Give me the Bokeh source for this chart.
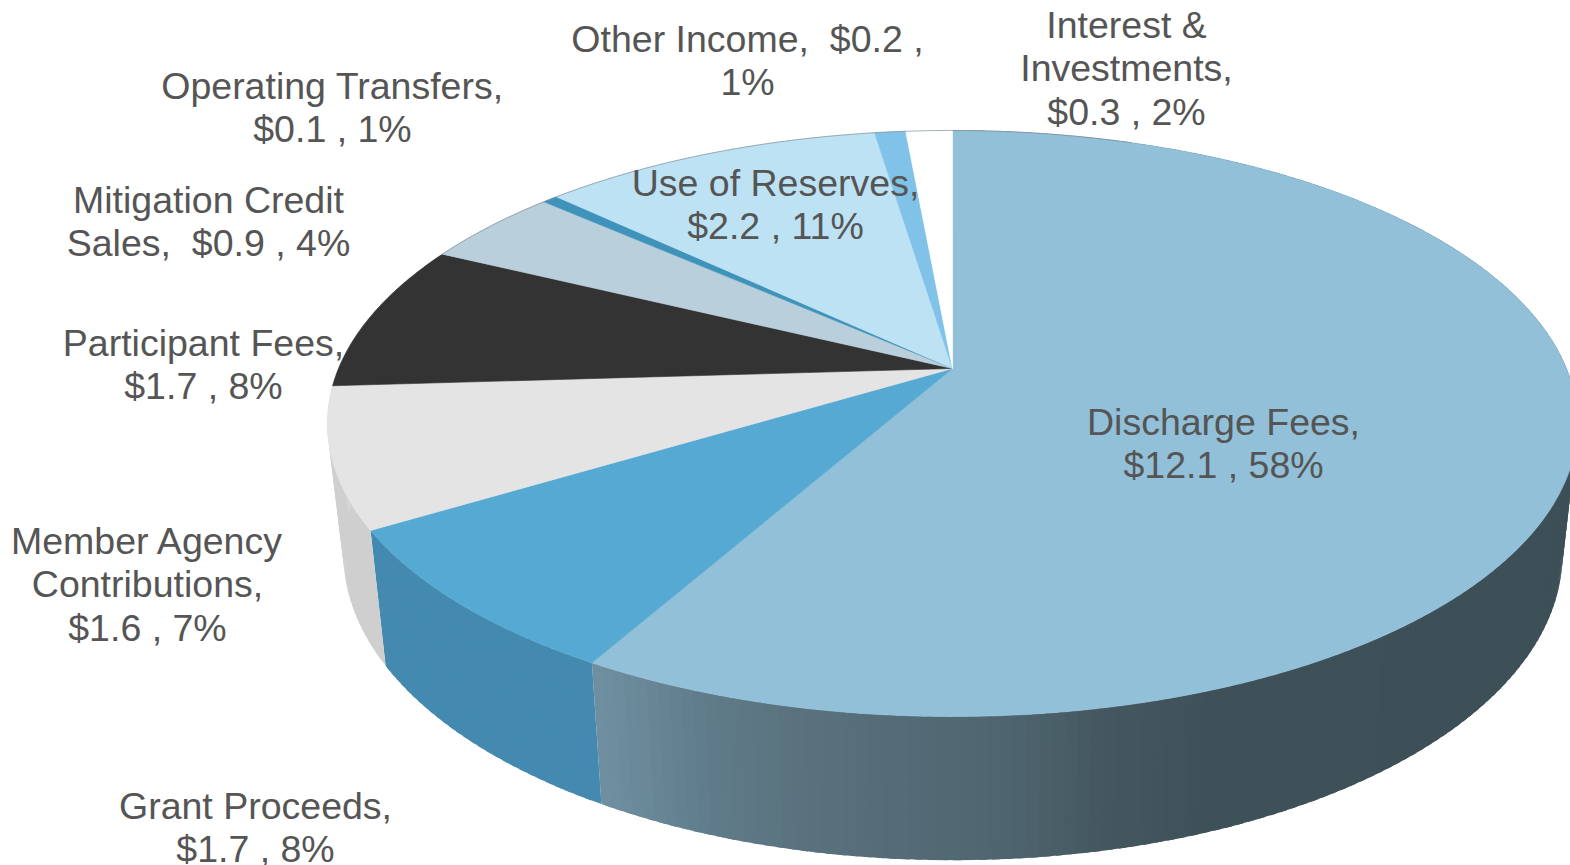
import numpy as np
from bokeh.core.properties import value
from bokeh.embed import file_html
from bokeh.models import Range1d
from bokeh.plotting import figure
from bokeh.resources import INLINE

# Revenue by source, $ millions, clockwise from twelve o'clock
sources = ["Discharge Fees", "Grant Proceeds", "Member Agency Contributions", "Participant Fees",
           "Mitigation Credit Sales", "Operating Transfers", "Use of Reserves", "Other Income",
           "Interest & Investments"]
amounts = [12.1, 1.7, 1.6, 1.7, 0.9, 0.1, 2.2, 0.2, 0.3]

top_colors = ["#92c0d8", "#56a9d2", "#e4e4e4", "#333333", "#b9cfdc", "#3f93bb", "#bde2f4", "#80c2e8", "#ffffff"]
# Only the first slices show a wall; the Participant wall continues the grey silhouette
wall_colors = [None, "#448ab0", "#cfcfcf", "#d6d6d6", None, None, None, None, None]

label_texts = [
    "Discharge Fees,\n$12.1 , 58%",
    "Grant Proceeds,\n$1.7 , 8%",
    "Member Agency\nContributions,\n$1.6 , 7%",
    "Participant Fees,\n$1.7 , 8%",
    "Mitigation Credit\nSales,\u00a0 $0.9 , 4%",
    "Operating Transfers,\n$0.1 , 1%",
    "Use of Reserves,\n$2.2 , 11%",
    "Other Income,\u00a0 $0.2 ,\n1%",
    "Interest &\nInvestments,\n$0.3 , 2%",
]
label_x = [1223, 255, 147, 203, 208, 332, 775, 747, 1126]
label_y = [443, 827, 584, 364, 221, 107, 204, 60, 68]

# Perspective projection of the disc, in page pixels
CX, CY = 952, 368
RX, RY, TILT = 614, 282.7, 0.1877


def project_top(angle):
    u, v = np.sin(angle), -np.cos(angle)
    d = 1 - TILT * v
    return RX * u / d, RY * v / d


def top_xy(angle):
    x, y = project_top(angle)
    return CX + x, CY + y


def bottom_xy(angle):
    x, y = project_top(angle)
    return CX + 0.5 + 0.975 * x, CY + 128 + 1.045 * y


def wall_shade(x):
    stops_x = [590, 700, 800, 1000, 1100, 1200, 1560]
    stops_r = [0x70, 0x60, 0x5a, 0x4f, 0x45, 0x3f, 0x3d]
    stops_g = [0x91, 0x7c, 0x72, 0x66, 0x58, 0x52, 0x4f]
    stops_b = [0xa3, 0x8a, 0x7e, 0x70, 0x60, 0x5a, 0x57]
    return "#%02x%02x%02x" % (int(np.interp(x, stops_x, stops_r)),
                              int(np.interp(x, stops_x, stops_g)),
                              int(np.interp(x, stops_x, stops_b)))


shares = np.array(amounts) / sum(amounts)
edges = np.concatenate([[0.0], np.cumsum(shares)]) * 2 * np.pi

p = figure(width=1570, height=865, output_backend="svg", toolbar_location=None,
           x_range=Range1d(0, 1570), y_range=Range1d(865, 0), min_border=0,
           outline_line_color=None, background_fill_color="white")
p.axis.visible = False
p.grid.visible = False

# Side wall, drawn in overlapping strips so the shading can vary along the rim.
# The later slices sit at the back and are hidden by the top face.
for i, (start, end) in enumerate(zip(edges[:4], edges[1:5])):
    steps = max(2, int(np.degrees(end - start)))
    ticks = np.linspace(start, end, steps + 1)
    overlap = 1.6 * (ticks[1] - ticks[0])
    xs, ys, fills = [], [], []
    for a0 in ticks[:-1]:
        a1 = min(a0 + overlap, end)
        tx, ty = top_xy(np.array([a0, a1]))
        bx, by = bottom_xy(np.array([a1, a0]))
        xs.append(list(tx) + list(bx))
        ys.append(list(ty) + list(by))
        fills.append(wall_shade(tx.mean()) if wall_colors[i] is None else wall_colors[i])
    p.patches(xs, ys, fill_color=fills, line_color=None)

# Top face of each slice
for start, end, color in zip(edges[:-1], edges[1:], top_colors):
    arc = np.linspace(start, end, max(3, int(np.degrees(end - start)) * 2))
    ax, ay = top_xy(arc)
    p.patch([CX] + list(ax), [CY] + list(ay), fill_color=color, line_color=color, line_width=0.6)

# Hairline along the far rim
rim = np.linspace(edges[4], edges[-1] + 0.35, 200)
rx, ry = top_xy(rim)
p.line(rx, ry, line_color="#7f8f98", line_width=1, line_alpha=0.7)

p.text(label_x, label_y, text=label_texts, text_align="center", text_baseline="middle",
       text_color="#555555", text_font=value("Liberation Sans"), text_font_size="37.5px",
       text_line_height=1.035)

open("out.html", "w").write(file_html(p, INLINE))
